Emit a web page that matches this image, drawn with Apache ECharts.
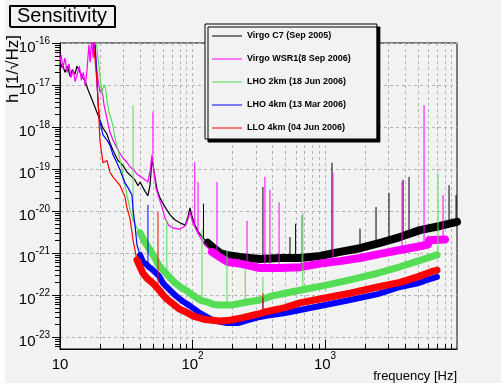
<!DOCTYPE html>
<html><head><meta charset="utf-8">
<script src="https://cdn.jsdelivr.net/npm/echarts@6/dist/echarts.min.js"></script>
<style>html,body{margin:0;padding:0;background:#fff;}#c{width:501px;height:385px;}</style>
</head><body><div id="c"></div>
<script>
// ---------- names, colours, ticks ----------
const legendNames = ['Virgo C7 (Sep 2005)','Virgo WSR1(8 Sep 2006)','LHO 2km (18 Jun 2006)','LHO 4km (13 Mar 2006)','LLO 4km (04 Jun 2006)'];
const lineColors = ['#000000','#ff00ff','#55dd55','#0000ff','#ff0000'];
const xDecades = [1,2,3];                       // 10, 10^2, 10^3
const yDecades = [-23,-22,-21,-20,-19,-18,-17,-16];
const fRange = [10, 9910];                      // Hz
const hRange = [5.18e-24, 1.0e-16];             // 1/sqrt(Hz)

// ---------- data: [frequency Hz, h] ----------
const virgoC7 = [[10,2.3e-17],[10.4,3.2e-17],[10.9,2.0e-17],[11.4,2.8e-17],[11.9,1.6e-17],[12.4,2.3e-17],[13.0,1.8e-17],[13.4,2.8e-17],[14.2,2.0e-17],[14.8,1.5e-17],[15.4,1.3e-17],[16.3,7.6e-18],[17.7,4.0e-18],[19.4,1.9e-18],[21.1,9.4e-19],[22.6,6.8e-19],[23.8,4.2e-19],[25.1,2.8e-19],[27.4,1.6e-19],[29.9,1.2e-19],[32.0,8.5e-20],[34.9,6.5e-20],[36.8,5.5e-20],[38.8,4.0e-20],[40.2,4.9e-20],[42.3,3.6e-20],[44,2.9e-20],[46,2.3e-20],[47.8,4.1e-20],[49.5,1.8e-19],[51,9.5e-20],[54,3.2e-20],[57,2.0e-20],[60,1.5e-20],[64,1.06e-20],[68,8.0e-21],[74,6.1e-21],[81,5.2e-21],[88,4.6e-21],[92,6.8e-21],[95.7,1.18e-20],[100,6.8e-21],[105,4.4e-21],[112,3.0e-21],[120,2.3e-21],[130,1.75e-21],[145,1.3e-21],[161,1.0e-21],[180,9.0e-22],[228,8.0e-22],[323,7.2e-22],[457,7.6e-22],[648,7.6e-22],[917,8.5e-22],[1297,1.06e-21],[1837,1.3e-21],[2600,1.75e-21],[3680,2.4e-21],[5210,3.5e-21],[7370,4.4e-21],[9910,5.5e-21]];
const virgoC7Lines = [[121,2.3e-21,1.5e-20],[340,7.2e-22,3.7e-20],[544,7.6e-22,2.4e-21],[600,7.6e-22,5.0e-21],[1129,1.0e-21,1.4e-19],[1837,1.3e-21,3.8e-21],[2427,1.6e-21,1.24e-20],[3040,2.0e-21,2.7e-20],[3880,2.5e-21,5.5e-20],[4305,2.7e-21,6.5e-20],[8630,4.8e-21,4.1e-20],[9750,5.4e-21,2.4e-20]];

const virgoWSR1 = [[10,3.5e-17],[10.2,5.2e-17],[10.5,2.5e-17],[10.9,4.4e-17],[11.3,2.0e-17],[11.7,3.2e-17],[12.1,1.5e-17],[12.6,2.3e-17],[13.0,1.2e-17],[13.5,1.8e-17],[14.0,2.8e-17],[14.5,1.3e-17],[15.0,2.0e-17],[15.5,9.5e-18],[16.0,2.3e-17],[16.5,9.0e-17],[16.9,3.5e-17],[17.3,1.2e-16],[17.8,4.4e-17],[18.3,1.3e-16],[18.8,3.0e-17],[19.4,1.3e-17],[20.0,6.8e-18],[20.7,8.5e-18],[21.5,3.3e-18],[22.6,1.6e-18],[23.8,7.6e-19],[25.1,4.9e-19],[26.5,3.5e-19],[28.0,2.5e-19],[30,1.8e-19],[32,1.45e-19],[34,1.1e-19],[36,9.5e-20],[38,7.6e-20],[40,6.8e-20],[42,6.1e-20],[44,5.5e-20],[46,4.9e-20],[48,9.5e-20],[49.5,2.2e-19],[51,9.5e-20],[53,3.5e-20],[56,2.0e-20],[59,1.2e-20],[62,6.8e-21],[66,4.6e-21],[72,3.9e-21],[80,3.7e-21],[88,4.4e-21],[92,6.1e-21],[95.7,9.5e-21],[100,5.5e-21],[107,3.5e-21],[113,2.5e-21],[125,1.55e-21],[140,1.06e-21],[161,8.0e-22],[185,6.1e-22],[228,5.6e-22],[323,4.4e-22],[457,4.4e-22],[648,4.6e-22],[917,5.6e-22],[1297,6.4e-22],[1837,7.6e-22],[2600,9.5e-22],[3680,1.18e-21],[5210,1.45e-21],[5990,1.6e-21],[6100,2.0e-21],[8050,2.1e-21]];
const virgoWSR1Lines = [[50.3,2.2e-19,2.3e-18],[104,4.5e-21,1.45e-19],[110,3.0e-21,4.9e-20],[153,9.0e-22,4.9e-20],[258,5.8e-22,5.8e-21],[352,4.4e-22,6.5e-20],[384,4.4e-22,3.2e-20],[450,4.4e-22,1.6e-20],[670,4.6e-22,8.0e-21],[1148,6.0e-22,8.0e-20],[3813,1.2e-21,4.9e-20],[5590,1.5e-21,3.3e-18],[7780,2.0e-21,2.4e-20]];

const lho2km = [[18.8,1.2e-16],[19.4,3.9e-17],[20.0,1.7e-17],[20.7,5.8e-18],[21.1,8.5e-18],[21.9,1.0e-17],[22.6,4.4e-18],[23.4,2.3e-18],[25.1,1.1e-18],[26.0,5.5e-19],[27.4,2.8e-19],[29.9,7.2e-20],[32.0,2.4e-20],[33.8,1.06e-20],[35.6,6.0e-21],[38.1,3.9e-21],[40.2,3.0e-21],[43.8,1.8e-21],[47.8,1.18e-21],[52,7.6e-22],[56,4.9e-22],[60,3.9e-22],[66,2.8e-22],[72,2.1e-22],[80,1.6e-22],[91,1.25e-22],[100,1.0e-22],[114,7.6e-23],[130,6.8e-23],[143,6.0e-23],[160,5.8e-23],[200,5.8e-23],[260,6.8e-23],[323,7.6e-23],[400,9.5e-23],[500,1.1e-22],[648,1.3e-22],[1000,1.7e-22],[1545,2.3e-22],[2500,3.3e-22],[3680,4.7e-22],[5000,6.4e-22],[6200,8.0e-22],[7000,9.0e-22]];
const lho2kmLines = [[35.6,6.0e-21,3.3e-18],[64,3.3e-22,6.1e-21],[118,7.5e-23,3.5e-21],[182,5.8e-23,1.2e-21],[250,6.5e-23,4.0e-22],[340,7.8e-23,2.7e-22],[680,1.35e-22,9.0e-21],[7120,9.0e-22,8.0e-20]];

const lho4km = [[18.4,9.0e-17],[19.0,1.3e-17],[19.4,3.3e-18],[20.0,1.3e-18],[21.1,6.5e-19],[22.6,4.9e-19],[23.8,3.7e-19],[25.1,2.2e-19],[26.9,1.4e-19],[28.4,9.5e-20],[29.9,6.1e-20],[31.0,4.6e-20],[32.6,3.6e-20],[34.9,2.4e-20],[35.6,1.06e-20],[36.8,4.6e-21],[38.1,1.55e-21],[40.2,9.0e-22],[42.3,6.1e-22],[45.4,5.2e-22],[47,4.6e-22],[50.3,3.9e-22],[56,2.8e-22],[60,1.9e-22],[67.6,1.3e-22],[75,9.5e-23],[86,6.8e-23],[95,5.6e-23],[114,3.7e-23],[143,2.5e-23],[182,2.15e-23],[220,2.15e-23],[258,2.5e-23],[323,3.0e-23],[360,3.2e-23],[500,3.7e-23],[648,4.4e-23],[1000,5.8e-23],[1545,7.6e-23],[2500,1.05e-22],[3680,1.55e-22],[5000,1.9e-22],[6200,2.4e-22],[7000,2.7e-22]];
const lho4kmLines = [[46.1,5.0e-22,1.4e-20],[340,3.1e-23,8.5e-23]];

const llo4km = [[17.7,1.2e-16],[18.4,4.0e-17],[19.0,1.2e-17],[19.4,4.4e-18],[20.0,4.9e-19],[21.1,1.4e-19],[22.6,1.6e-19],[23.8,8.5e-20],[25.1,6.5e-20],[26.9,5.0e-20],[28.4,4.0e-20],[30.9,2.2e-20],[32.0,1.2e-20],[33.8,6.5e-21],[35.6,2.0e-21],[38.1,6.8e-22],[42.3,3.3e-22],[45.4,2.5e-22],[50.3,1.9e-22],[54,1.5e-22],[60,1.0e-22],[64,8.0e-23],[71,6.2e-23],[80,4.6e-23],[91,3.8e-23],[100,3.2e-23],[125,2.6e-23],[160,2.4e-23],[192,2.5e-23],[240,2.9e-23],[286,3.3e-23],[323,3.6e-23],[360,4.0e-23],[500,5.0e-23],[648,6.5e-23],[1000,8.5e-23],[1545,1.1e-22],[2500,1.55e-22],[3680,2.0e-22],[5000,2.7e-22],[6200,3.5e-22],[7000,3.9e-22]];
const llo4kmLines = [[54.9,1.5e-22,9.5e-21],[340,3.6e-23,1.1e-22]];

// ---------- build ----------
const L = v => Math.log10(v);
const xMin = L(fRange[0]), xMax = L(fRange[1]);
const yMin = L(hRange[0]), yMax = L(hRange[1]);
const FONT = 'Liberation Sans, Arial, Helvetica, sans-serif';

const xMinor = [], yMinor = [];
for (let n = 1; n <= 3; n++) for (let k = 2; k <= 9; k++) { const v = n + L(k); if (v < xMax) xMinor.push([v, yMin]); }
for (let n = -24; n <= -17; n++) for (let k = 2; k <= 9; k++) { const v = n + L(k); if (v > yMin && v < yMax) yMinor.push([xMin, v]); }

const crisp = v => Math.round(v) + 0.5;
const fmt = v => {
  if (Math.abs(v - Math.round(v)) > 1e-6) return '';
  const e = Math.round(v);
  return e === 1 ? '{b|10}' : '{b|10}{s|' + e + '}';
};
const rich = {
  b: {fontSize: 15, fontFamily: FONT, color: '#000', lineHeight: 21, verticalAlign: 'bottom'},
  s: {fontSize: 10, fontFamily: FONT, color: '#000', lineHeight: 21, verticalAlign: 'top'}
};
const measure = (() => { const c = document.createElement('canvas').getContext('2d'); return (t, f) => { c.font = f; return c.measureText(t).width; }; })();

const series = [
  { type: 'custom', silent: true, data: xMinor, z: 1,
    renderItem: (p, api) => {
      const v = api.value(0);
      const t = api.coord([v, yMax]), b = api.coord([v, yMin]);
      const x = crisp(t[0]);
      return {type: 'group', children: [
        {type: 'line', shape: {x1: x, y1: t[1], x2: x, y2: b[1]}, style: {stroke: '#b4b4b4', lineWidth: 1, lineDash: [3, 3]}},
        {type: 'line', shape: {x1: x, y1: b[1], x2: x, y2: b[1] - 5}, style: {stroke: '#000', lineWidth: 1}}
      ]};
    }},
  { type: 'custom', silent: true, data: yMinor, z: 1, clip: false,
    renderItem: (p, api) => {
      const c = api.coord([xMin, api.value(1)]);
      const y = crisp(c[1]);
      return {type: 'line', shape: {x1: c[0], y1: y, x2: c[0] - 5, y2: y}, style: {stroke: '#000', lineWidth: 1}};
    }},
  // y-axis decade labels (10 with superscript exponent), placed through the axis scale
  { type: 'custom', silent: true, data: yDecades.map(e => [xMin, e]), z: 5, clip: false,
    renderItem: (p, api) => {
      const e = api.value(1);
      const c = api.coord([xMin, e]);
      const right = c[0] - 10;
      const expTxt = String(e);
      const expFont = '10px ' + FONT, baseFont = '15px ' + FONT;
      const w = measure(expTxt, expFont);
      return {type: 'group', children: [
        {type: 'text', x: right, y: c[1] - 2, style: {text: expTxt, font: expFont, fill: '#000', align: 'right', verticalAlign: 'middle'}},
        {type: 'text', x: right - w, y: c[1] + 5, style: {text: '10', font: baseFont, fill: '#000', align: 'right', verticalAlign: 'middle'}}
      ]};
    }}
];

const detectors = [
  {curve: virgoC7, lines: virgoC7Lines, bandFrom: 130, band: 8},
  {curve: virgoWSR1, lines: virgoWSR1Lines, bandFrom: 140, band: 8},
  {curve: lho2km, lines: lho2kmLines, bandFrom: 40, band: 7},
  {curve: lho4km, lines: lho4kmLines, bandFrom: 40, band: 6},
  {curve: llo4km, lines: llo4kmLines, bandFrom: 38, band: 7}
];
detectors.forEach((d, i) => {
  const name = legendNames[i], color = lineColors[i];
  const base = {type: 'line', name, symbol: 'none', showSymbol: false, silent: true, color, z: 3};
  series.push(Object.assign({}, base, {data: d.curve.map(([f, h]) => [L(f), L(h)]), lineStyle: {width: 1.2, color}}));
  series.push(Object.assign({}, base, {data: d.curve.filter(p => p[0] >= d.bandFrom).map(([f, h]) => [L(f), L(h)]), lineStyle: {width: d.band, color, join: 'round', cap: 'round'}}));
  const sp = [];
  d.lines.forEach(([f, b, pk]) => { sp.push([L(f), L(b)], [L(f), L(pk)], [L(f), '-']); });
  series.push(Object.assign({}, base, {data: sp, connectNulls: false, lineStyle: {width: 1, color}}));
});

const chart = echarts.init(document.getElementById('c'), null, {renderer: 'canvas'});
chart.setOption({
  animation: false,
  backgroundColor: '#ffffff',
  title: {
    text: 'Sensitivity', left: 9, top: 5, padding: [1, 8, 1, 8],
    backgroundColor: '#f2f2f2', borderColor: '#000', borderWidth: 1,
    shadowColor: '#000', shadowOffsetX: 1, shadowOffsetY: 1, shadowBlur: 0,
    textStyle: {fontFamily: FONT, fontSize: 20, fontWeight: 'normal', color: '#000', lineHeight: 20}
  },
  legend: {
    data: legendNames, orient: 'vertical', left: 205, top: 24,
    padding: [7, 26, 6, 7], itemWidth: 30, itemHeight: 1, itemGap: 13, icon: 'rect',
    backgroundColor: '#f2f2f2', borderColor: '#000', borderWidth: 1,
    shadowColor: '#000', shadowOffsetX: 3, shadowOffsetY: 3, shadowBlur: 0,
    selectedMode: false,
    textStyle: {fontFamily: FONT, fontSize: 9, fontWeight: 'bold', color: '#000', lineHeight: 10}
  },
  grid: {left: 60, right: 44, top: 43, bottom: 36, show: true, borderColor: '#000', borderWidth: 1, backgroundColor: 'transparent', containLabel: false},
  xAxis: {
    type: 'value', min: xMin, max: xMax, minInterval: 1, maxInterval: 1,
    axisLine: {show: true, lineStyle: {color: '#000'}},
    axisTick: {show: true, inside: true, length: 9, lineStyle: {color: '#000'}, customValues: xDecades},
    axisLabel: {formatter: fmt, rich, margin: 2, customValues: xDecades, alignMinLabel: 'center', alignMaxLabel: 'center'},
    splitLine: {show: true, lineStyle: {color: '#b4b4b4', type: [3, 3]}}
  },
  yAxis: {
    type: 'value', min: yMin, max: yMax, minInterval: 1, maxInterval: 1,
    axisLine: {show: true, lineStyle: {color: '#000'}},
    axisTick: {show: true, inside: false, length: 8, lineStyle: {color: '#000'}, customValues: yDecades},
    axisLabel: {show: false},
    splitLine: {show: true, lineStyle: {color: '#b4b4b4', type: [3, 3]}}
  },
  graphic: [
    {type: 'rect', z: -100, silent: true, shape: {x: 5, y: 0, width: 496, height: 383}, style: {fill: '#f2f2f2'}},
    {type: 'text', x: 13, y: 35, rotation: Math.PI / 2, silent: true,
      style: {text: 'h [1/√Hz]', align: 'right', verticalAlign: 'middle', font: '17px ' + FONT, fill: '#000'}},
    {type: 'text', x: 457, y: 376, silent: true,
      style: {text: 'frequency [Hz]', align: 'right', verticalAlign: 'middle', font: '13px ' + FONT, fill: '#000'}}
  ],
  series
});
</script></body></html>
